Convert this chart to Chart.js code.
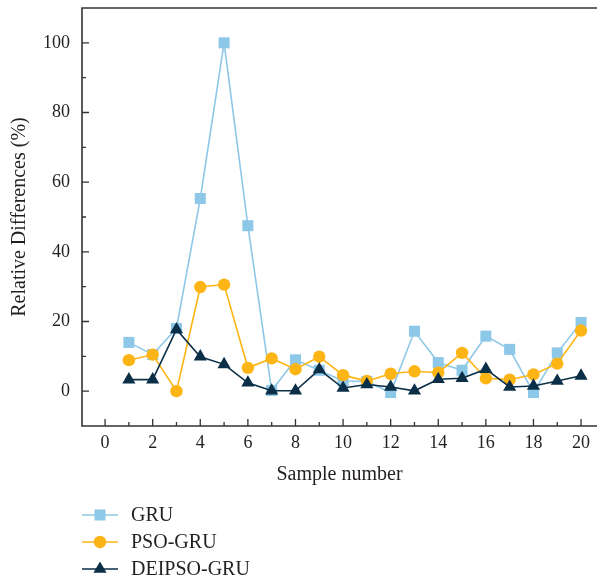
<!DOCTYPE html>
<html>
<head>
<meta charset="utf-8">
<script src="https://cdn.jsdelivr.net/npm/chart.js@4.4.1/dist/chart.umd.min.js"></script>
<style>
  html, body { margin: 0; padding: 0; background: #fff; overflow: hidden; }
  canvas { display: block; }
</style>
</head>
<body>
<canvas id="chart" width="597" height="582"></canvas>
<script>
const samples = [1,2,3,4,5,6,7,8,9,10,11,12,13,14,15,16,17,18,19,20];
const gru = [14.0,10.5,18.0,55.3,100,47.5,0.2,9.0,6.0,2.9,2.8,-0.4,17.2,8.2,6.0,15.8,12.0,-0.4,11.0,19.7];
const psoGru = [8.9,10.5,0.0,29.9,30.6,6.7,9.4,6.3,9.9,4.6,2.9,5.0,5.7,5.3,11.0,3.7,3.3,4.8,7.9,17.4];
const deipsoGru = [3.3,3.3,17.7,9.9,7.7,2.4,0.1,0.1,6.2,0.9,1.9,1.2,0.1,3.4,3.7,6.3,1.2,1.5,2.9,4.4];

const seriesNames = ["GRU", "PSO-GRU", "DEIPSO-GRU"];
const seriesColors = ["#8ec8e8", "#fdb515", "#0b2f47"];
const seriesStyles = ["rect", "circle", "triangle"];
const seriesRadius = [7.8, 6.2, 7.6];

const yMajorLabels = [0, 20, 40, 60, 80, 100];
const xMajorLabels = [0, 2, 4, 6, 8, 10, 12, 14, 16, 18, 20];

const fontFamily = "'Liberation Serif', 'DejaVu Serif', serif";
const textColor = "#231f20";
const axisColor = "#333333";

function toPoints(values){
    return values.map((v, i) => ({ x: samples[i], y: v }));
}

function noEdgePadding(scale){
    scale.paddingTop = 0;
    scale.paddingBottom = 0;
    scale.paddingLeft = 0;
    scale.paddingRight = 0;
}

// inward tick marks + frame (top and left/bottom axes)
const frameTicks = {
    id: "frameTicks",
    afterDatasetsDraw(chart){
        const { ctx, chartArea: a, scales } = chart;
        ctx.save();
        ctx.strokeStyle = axisColor;
        ctx.lineWidth = 1.6;
        ctx.beginPath();
        ctx.moveTo(a.right + 2, a.top);
        ctx.lineTo(a.left, a.top);
        ctx.lineTo(a.left, a.bottom);
        ctx.lineTo(a.right + 2, a.bottom);
        ctx.stroke();

        ctx.lineWidth = 1.3;
        ctx.beginPath();
        for (let v = 0; v <= 100; v += 10) {
            const y = scales.y.getPixelForValue(v);
            const len = v % 20 === 0 ? 7 : 4;
            ctx.moveTo(a.left, y);
            ctx.lineTo(a.left + len, y);
        }
        for (let v = 0; v <= 20; v++) {
            const x = scales.x.getPixelForValue(v);
            const len = v % 2 === 0 ? 7 : 4;
            ctx.moveTo(x, a.bottom);
            ctx.lineTo(x, a.bottom - len);
        }
        ctx.stroke();
        ctx.restore();
    }
};

// vertical legend under the axis title
const sideLegend = {
    id: "sideLegend",
    afterDraw(chart){
        const ctx = chart.ctx;
        const rows = [515, 542, 569];
        ctx.save();
        chart.data.datasets.forEach((ds, i) => {
            const y = rows[i];
            ctx.strokeStyle = ds.borderColor;
            ctx.lineWidth = 1.6;
            ctx.beginPath();
            ctx.moveTo(82, y);
            ctx.lineTo(118, y);
            ctx.stroke();
            ctx.fillStyle = ds.pointBackgroundColor;
            ctx.strokeStyle = ds.pointBackgroundColor;
            Chart.helpers.drawPoint(ctx, {
                pointStyle: ds.pointStyle,
                radius: ds.pointRadius,
                rotation: 0,
                borderWidth: 0
            }, 100, y);
            ctx.fillStyle = textColor;
            ctx.font = "20px " + fontFamily;
            ctx.textBaseline = "middle";
            ctx.textAlign = "left";
            ctx.fillText(ds.label, 131, y + 1);
        });
        ctx.restore();
    }
};

const datasets = [gru, psoGru, deipsoGru].map((vals, i) => ({
    label: seriesNames[i],
    data: toPoints(vals),
    borderColor: seriesColors[i],
    backgroundColor: seriesColors[i],
    pointBackgroundColor: seriesColors[i],
    pointBorderColor: seriesColors[i],
    pointStyle: seriesStyles[i],
    pointRadius: seriesRadius[i],
    pointBorderWidth: 0,
    borderWidth: 1.6,
    tension: 0,
    order: 3 - i
}));

new Chart(document.getElementById("chart").getContext("2d"), {
    type: "line",
    data: { datasets },
    plugins: [frameTicks, sideLegend],
    options: {
        responsive: false,
        animation: false,
        layout: { autoPadding: false, padding: { top: 8, left: 0, right: 0, bottom: 92 } },
        plugins: {
            legend: { display: false },
            tooltip: { enabled: false }
        },
        scales: {
            x: {
                type: "linear",
                min: -0.97,
                max: 20.67,
                grid: { display: false, drawTicks: false },
                border: { display: false },
                afterBuildTicks(scale){ scale.ticks = xMajorLabels.map((v) => ({ value: v })); },
                afterFit(scale){ scale.height = 64; noEdgePadding(scale); },
                ticks: {
                    autoSkip: false,
                    maxRotation: 0,
                    padding: 6,
                    color: textColor,
                    font: { family: fontFamily, size: 18 },
                    callback: (v) => String(v)
                },
                title: {
                    display: true,
                    text: "Sample number",
                    color: textColor,
                    font: { family: fontFamily, size: 20 },
                    padding: { top: 3, bottom: 3 }
                }
            },
            y: {
                type: "linear",
                min: -10,
                max: 110,
                grid: { display: false, drawTicks: false },
                border: { display: false },
                afterBuildTicks(scale){ scale.ticks = yMajorLabels.map((v) => ({ value: v })); },
                afterFit(scale){ scale.width = 82; noEdgePadding(scale); },
                ticks: {
                    autoSkip: false,
                    padding: 12,
                    color: textColor,
                    font: { family: fontFamily, size: 18 },
                    callback: (v) => String(v)
                },
                title: {
                    display: true,
                    text: "Relative Differences (%)",
                    color: textColor,
                    font: { family: fontFamily, size: 20 },
                    padding: { top: 8, bottom: 0 }
                }
            }
        }
    }
});
</script>
</body>
</html>
